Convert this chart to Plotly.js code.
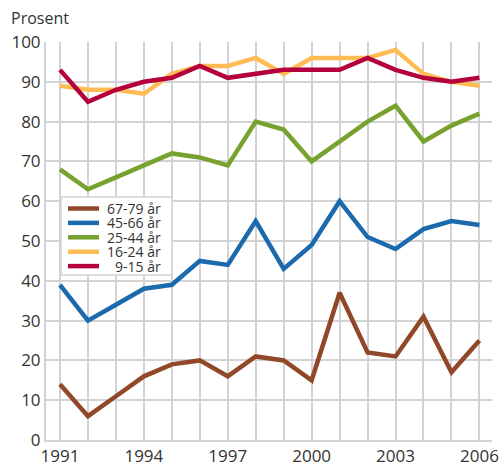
<!DOCTYPE html>
<html>
<head>
<meta charset="utf-8">
<script src="https://cdn.plot.ly/plotly-3.0.1.min.js"></script>
<style>html,body{margin:0;padding:0;background:#fff;}#chart{width:500px;height:467px;}</style>
</head>
<body>
<div id="chart"></div>
<script>
const years = [1991,1992,1993,1994,1995,1996,1997,1998,1999,2000,2001,2002,2003,2004,2005,2006];
const labeledYears = [1991,1994,1997,2000,2003,2006];
const seriesNames = ["67-79 år","45-66 år","25-44 år","16-24 år","9-15 år"];
const seriesColors = ["#914829","#1b6aae","#78a22f","#ffbc55","#b4003b"];
const age67_79 = [14,6,11,16,19,20,16,21,20,15,37,22,21,31,17,25];
const age45_66 = [39,30,34,38,39,45,44,55,43,49,60,51,48,53,55,54];
const age25_44 = [68,63,66,69,72,71,69,80,78,70,75,80,84,75,79,82];
const age16_24 = [89,88,88,87,92,94,94,96,92,96,96,96,98,92,90,89];
const age9_15  = [93,85,88,90,91,94,91,92,93,93,93,96,93,91,90,91];
const seriesValues = [age67_79, age45_66, age25_44, age16_24, age9_15];
const yTicks = [0,10,20,30,40,50,60,70,80,90,100];

const W = 500, H = 467;
const M = {l:46, r:8, t:42, b:27};
const pw = W - M.l - M.r, ph = H - M.t - M.b;
const px = x => (x - M.l) / pw;
const py = y => (H - M.b - y) / ph;

const traces = seriesValues.map((vals, i) => ({
  type: 'scatter', mode: 'lines', x: years, y: vals, name: seriesNames[i],
  line: {color: seriesColors[i], width: 4.5}, showlegend: false, hoverinfo: 'skip'
}));

// custom compact legend
const shapes = [{
  type: 'rect', xref: 'paper', yref: 'paper',
  x0: px(61), x1: px(172), y0: py(197), y1: py(275),
  fillcolor: '#ffffff', line: {color: '#d3d3d3', width: 1.5}, layer: 'above'
}];
const annotations = [{
  text: 'Prosent', xref: 'paper', yref: 'paper', x: px(9), y: py(18),
  xanchor: 'left', yanchor: 'middle', showarrow: false,
  font: {family: 'Open Sans, sans-serif', size: 16, color: '#333333'}
}];
seriesNames.forEach((name, i) => {
  const cy = 208.5 + i * 14.4;
  shapes.push({
    type: 'line', xref: 'paper', yref: 'paper',
    x0: px(68), x1: px(99), y0: py(cy), y1: py(cy),
    line: {color: seriesColors[i], width: 4.5}, layer: 'above'
  });
  annotations.push({
    text: name, xref: 'paper', yref: 'paper', x: px(163), y: py(cy),
    xanchor: 'right', yanchor: 'middle', showarrow: false,
    font: {family: 'Open Sans, sans-serif', size: 14, color: '#333333'}
  });
});

const layout = {
  width: W, height: H, margin: M,
  paper_bgcolor: '#ffffff', plot_bgcolor: '#ffffff',
  font: {family: 'Open Sans, sans-serif', size: 17, color: '#333333'},
  xaxis: {
    range: [1990.5, 2006.45], tickmode: 'array', tickvals: years,
    ticktext: years.map(y => labeledYears.includes(y) ? String(y) : ''),
    showgrid: true, gridcolor: '#d3d3d3', gridwidth: 2,
    showline: true, linecolor: '#d3d3d3', linewidth: 2,
    zeroline: false, ticks: '', fixedrange: true
  },
  yaxis: {
    range: [0, 100], tickmode: 'array', tickvals: yTicks,
    showgrid: true, gridcolor: '#d3d3d3', gridwidth: 2,
    showline: true, linecolor: '#d3d3d3', linewidth: 2,
    zeroline: false, ticks: '', fixedrange: true
  },
  shapes: shapes, annotations: annotations, showlegend: false
};
Plotly.newPlot('chart', traces, layout, {staticPlot: true});
</script>
</body>
</html>
